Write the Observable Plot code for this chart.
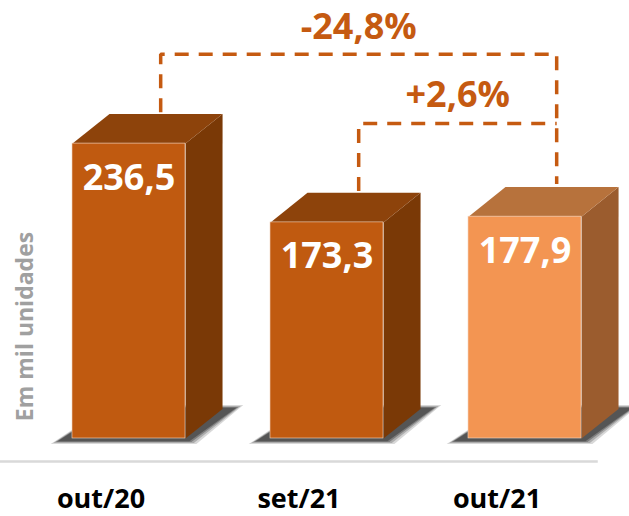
<!DOCTYPE html>
<html>
<head>
<meta charset="utf-8">
<script src="https://cdn.jsdelivr.net/npm/d3@7"></script>
<script src="https://cdn.jsdelivr.net/npm/@observablehq/plot@0.6"></script>
<style>
  html, body { margin: 0; padding: 0; background: #fff; }
  #chart { width: 629px; height: 516px; }
</style>
</head>
<body>
<div id="chart"></div>
<script>
// ---- data ----
const categories = ["out/20", "set/21", "out/21"];
const values = [236.5, 173.3, 177.9];
const valueLabels = ["236,5", "173,3", "177,9"];
const changeLabels = ["-24,8%", "+2,6%"];
const highlighted = [false, false, true];
const unitLabel = "Em mil unidades";

// ---- styles ----
const dark = { front: "#C05A10", top: "#8D430B", side: "#7A3906" };
const light = { front: "#F39552", top: "#B7723C", side: "#9B5C2E" };
const accent = "#C55A11";
const halfW = 0.2854;     // half width of front face (x units)
const ddx = 0.187;        // depth in x units
const ddy = 23.7;         // depth in y units

const idx = values.map((_, i) => i);
const pal = i => (highlighted[i] ? light : dark);

const marks = [];

// baseline rule
marks.push(Plot.ruleY([0], { x1: -0.66, x2: categories.length - 1 + 0.37, dy: 23, stroke: "#D9D9D9", strokeWidth: 2.5 }));

// shadows: layered soft polygons (outer layers fainter)
const shadowLayers = [
  { grow: 0.035, gy: 2.2, op: 0.18 },
  { grow: 0.022, gy: 1.4, op: 0.25 },
  { grow: 0.010, gy: 0.6, op: 0.35 },
  { grow: 0.0, gy: 0, op: 0.45 }
];
idx.forEach(i => {
  const x0 = i - halfW, x1 = i + halfW;
  shadowLayers.forEach(L => {
    const pts = [
      { x: x0 - 0.075 - L.grow, y: -2.2 - L.gy }, { x: x1 + 0.02 + L.grow, y: -2.2 - L.gy },
      { x: x1 + ddx + 0.07 + L.grow, y: ddy + 1 + L.gy }, { x: x0 + ddx, y: ddy + 1 + L.gy }
    ];
    marks.push(Plot.line(pts, { x: "x", y: "y", fill: "#262626", stroke: "none", fillOpacity: L.op }));
  });
});

// side faces
idx.forEach(i => {
  const x1 = i + halfW, v = values[i];
  const pts = [{ x: x1, y: v }, { x: x1 + ddx, y: v + ddy }, { x: x1 + ddx, y: ddy }, { x: x1, y: 0 }];
  marks.push(Plot.line(pts, { x: "x", y: "y", fill: pal(i).side, stroke: "none" }));
});
// top faces
idx.forEach(i => {
  const x0 = i - halfW, x1 = i + halfW, v = values[i];
  const pts = [{ x: x0, y: v }, { x: x1, y: v }, { x: x1 + ddx, y: v + ddy }, { x: x0 + ddx, y: v + ddy }];
  marks.push(Plot.line(pts, { x: "x", y: "y", fill: pal(i).top, stroke: "none" }));
});
// front faces
marks.push(Plot.rect(idx, {
  x1: i => i - halfW, x2: i => i + halfW, y1: 0, y2: i => values[i],
  fill: i => pal(i).front, stroke: "#f3d9c6", strokeWidth: 0.6
}));

// value labels
marks.push(Plot.text(idx, {
  x: i => i, y: i => values[i], text: i => valueLabels[i],
  fill: "white", fontSize: 36, fontWeight: "bold", lineAnchor: "bottom", dy: 46
}));

// brackets
const off = 0.16;
const gap = 1.5;
const lvl1 = Math.max(...values) + ddy + 48;
const lvl2 = Math.max(values[1], values[2]) + ddy + 51;
const b1 = [
  { x: 0 + off, y: values[0] + ddy + gap },
  { x: 0 + off, y: lvl1 },
  { x: 2 + off, y: lvl1 },
  { x: 2 + off, y: values[2] + ddy + gap + 1 }
];
const b2 = [
  { x: 1 + off, y: values[1] + ddy + gap },
  { x: 1 + off, y: lvl2 },
  { x: 2 + off, y: lvl2 }
];
[b1, b2].forEach(b => marks.push(Plot.line(b, {
  x: "x", y: "y", stroke: accent, strokeWidth: 3.5, strokeDasharray: "14,10", strokeLinejoin: "miter", strokeLinecap: "butt"
})));

// change labels
marks.push(Plot.text([0], {
  x: () => 1 + off, y: () => lvl1, text: () => changeLabels[0],
  fill: accent, fontSize: 36, fontWeight: "bold", lineAnchor: "bottom", dy: -15
}));
marks.push(Plot.text([0], {
  x: () => 1.5 + off, y: () => lvl2, text: () => changeLabels[1],
  fill: accent, fontSize: 36, fontWeight: "bold", lineAnchor: "bottom", dy: -17
}));

// y label
marks.push(Plot.text([unitLabel], {
  frameAnchor: "left", text: d => d, rotate: -90, dx: 25, dy: 107,
  fill: "#A0A0A0", fontSize: 23, fontWeight: "bold", lineAnchor: "middle", textAnchor: "middle"
}));

// x axis
marks.push(Plot.axisX({
  ticks: idx, tickFormat: i => categories[i], tickSize: 0, tickPadding: 50,
  fontSize: 27, fontWeight: "bold", fill: "#000", dx: -28, label: null
}));

const chart = Plot.plot({
  width: 629,
  height: 516,
  marginTop: 0,
  marginBottom: 78,
  marginLeft: 0,
  marginRight: 0,
  style: { fontFamily: "'Open Sans', sans-serif", background: "#fff", overflow: "visible" },
  x: { type: "linear", domain: [-128.5 / 198, (629 - 128.5) / 198], label: null },
  y: { domain: [0, 438 / 1.247], axis: null },
  marks
});

document.getElementById("chart").appendChild(chart);
</script>
</body>
</html>
